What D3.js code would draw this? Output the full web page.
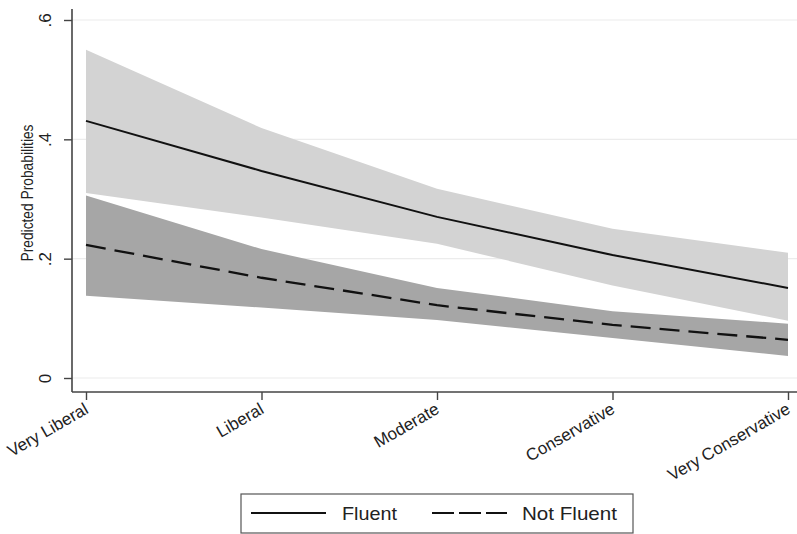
<!DOCTYPE html>
<html>
<head>
<meta charset="utf-8">
<script src="https://cdn.jsdelivr.net/npm/d3@7/dist/d3.min.js"></script>
<style>
  html, body { margin: 0; padding: 0; background: #fff; }
  svg { display: block; font-family: "Liberation Sans", Arial, Helvetica, sans-serif; }
</style>
</head>
<body>
<svg id="chart" width="797" height="534"></svg>
<script>
// Ideology categories on the x axis
const categories = ["Very Liberal", "Liberal", "Moderate", "Conservative", "Very Conservative"];

// Predicted probabilities with confidence bounds
const fluentMean  = [0.431, 0.347, 0.270, 0.206, 0.151];
const fluentLower = [0.310, 0.269, 0.225, 0.155, 0.096];
const fluentUpper = [0.550, 0.419, 0.317, 0.250, 0.210];

const notFluentMean  = [0.223, 0.168, 0.122, 0.089, 0.064];
const notFluentLower = [0.138, 0.118, 0.097, 0.067, 0.037];
const notFluentUpper = [0.306, 0.216, 0.151, 0.112, 0.091];

const yTicks = [0, 0.2, 0.4, 0.6];
const yTickLabels = ["0", ".2", ".4", ".6"];
const legendLabels = ["Fluent", "Not Fluent"];

const svg = d3.select("#chart");
const textColor = "#222";
const axisColor = "#444";

const x = d3.scalePoint().domain(categories).range([86, 788]);
const y = d3.scaleLinear().domain([0, 0.6]).range([378, 20]);

const axisX = 72, axisY = 392;

// horizontal grid lines
svg.append("g").selectAll("line").data(yTicks).join("line")
  .attr("x1", axisX).attr("x2", 797)
  .attr("y1", d => y(d)).attr("y2", d => y(d))
  .attr("stroke", "#ececec").attr("stroke-width", 1.2);

const rows = (lo, hi) => categories.map((c, i) => ({ c, lo: lo[i], hi: hi[i] }));
const area = d3.area().x(d => x(d.c)).y0(d => y(d.lo)).y1(d => y(d.hi));

// confidence bands
svg.append("path").datum(rows(fluentLower, fluentUpper))
  .attr("d", area).attr("fill", "#d3d3d3");
svg.append("path").datum(rows(notFluentLower, notFluentUpper))
  .attr("d", area).attr("fill", "#a6a6a6");

const line = d3.line().x(d => x(d.c)).y(d => y(d.v));
const pts = vals => categories.map((c, i) => ({ c, v: vals[i] }));

svg.append("path").datum(pts(fluentMean))
  .attr("d", line).attr("fill", "none")
  .attr("stroke", "#111").attr("stroke-width", 2);
svg.append("path").datum(pts(notFluentMean))
  .attr("d", line).attr("fill", "none")
  .attr("stroke", "#111").attr("stroke-width", 2.3)
  .attr("stroke-dasharray", "20,9");

// y axis
const yAxis = d3.axisLeft(y).tickValues(yTicks).tickSize(8).tickFormat((d, i) => yTickLabels[i]);
const gy = svg.append("g").attr("transform", `translate(${axisX},0)`).call(yAxis);
gy.select(".domain").remove();
gy.selectAll(".tick line").attr("stroke", axisColor).attr("stroke-width", 1.4);
gy.selectAll(".tick text")
  .attr("x", null).attr("dy", null)
  .attr("transform", "translate(-27,0) rotate(-90)")
  .attr("text-anchor", "middle")
  .attr("dominant-baseline", "central")
  .attr("fill", textColor)
  .style("font-size", "17px");
svg.append("line")
  .attr("x1", axisX).attr("x2", axisX).attr("y1", 9).attr("y2", axisY)
  .attr("stroke", axisColor).attr("stroke-width", 1.6);

// x axis
const xAxis = d3.axisBottom(x).tickSize(8).tickSizeOuter(0);
const gx = svg.append("g").attr("transform", `translate(0,${axisY})`).call(xAxis);
gx.select(".domain").remove();
gx.selectAll(".tick line").attr("stroke", axisColor).attr("stroke-width", 1.4);
gx.selectAll(".tick text")
  .attr("y", null).attr("dy", null)
  .attr("transform", "translate(-3,10) rotate(-30)")
  .attr("text-anchor", "end")
  .attr("dominant-baseline", "hanging")
  .attr("fill", textColor)
  .style("font-size", "17px");
svg.append("line")
  .attr("x1", axisX).attr("x2", 797).attr("y1", axisY).attr("y2", axisY)
  .attr("stroke", axisColor).attr("stroke-width", 1.6);

// y axis title
svg.append("text")
  .attr("transform", `translate(33,${y(0.3) - 6}) rotate(-90)`)
  .attr("text-anchor", "middle")
  .attr("fill", textColor)
  .attr("textLength", 137).attr("lengthAdjust", "spacingAndGlyphs")
  .style("font-size", "16.5px")
  .text("Predicted Probabilities");

// legend
const lg = svg.append("g");
lg.append("rect")
  .attr("x", 241).attr("y", 494).attr("width", 392).attr("height", 39)
  .attr("fill", "#fff").attr("stroke", "#555").attr("stroke-width", 1.2);
lg.append("line").attr("x1", 251).attr("x2", 326).attr("y1", 513).attr("y2", 513)
  .attr("stroke", "#111").attr("stroke-width", 2);
lg.append("text").attr("x", 342).attr("y", 513)
  .attr("dominant-baseline", "central").attr("fill", textColor)
  .attr("textLength", 55).attr("lengthAdjust", "spacingAndGlyphs")
  .style("font-size", "19px").text(legendLabels[0]);
lg.append("line").attr("x1", 432).attr("x2", 507).attr("y1", 513).attr("y2", 513)
  .attr("stroke", "#111").attr("stroke-width", 2)
  .attr("stroke-dasharray", "22,5");
lg.append("text").attr("x", 522).attr("y", 513)
  .attr("dominant-baseline", "central").attr("fill", textColor)
  .attr("textLength", 95).attr("lengthAdjust", "spacingAndGlyphs")
  .style("font-size", "19px").text(legendLabels[1]);
</script>
</body>
</html>
